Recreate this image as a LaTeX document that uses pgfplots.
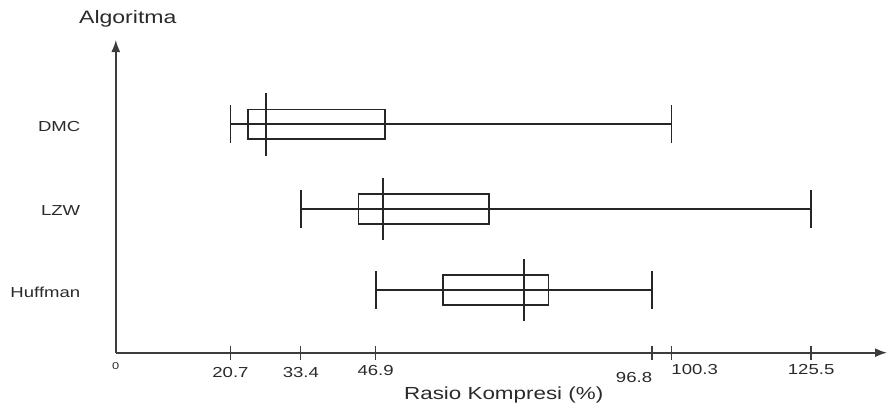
\documentclass[border=0pt]{standalone}
\usepackage{graphicx}
\usepackage{pgfplots}
\pgfplotsset{compat=1.18}
\usepgfplotslibrary{statistics}
\usetikzlibrary{arrows.meta}
\usepackage{fontspec}
\setmainfont{Liberation Sans}
\definecolor{ink}{HTML}{2A2A2A}
\definecolor{axisgray}{HTML}{3C3C3C}
\definecolor{boxcol}{HTML}{262626}
\newcommand{\sx}[1]{\scalebox{1.28}[1]{#1}}
\begin{document}
\begin{tikzpicture}
\begin{axis}[
  anchor=origin, at={(0pt,0pt)},
  scale only axis,
  width=771.2pt, height=312.7pt,
  xmin=0, xmax=139.2, ymin=0, ymax=312.7,
  axis lines=left,
  axis line style={axisgray, line width=1.6pt, -{Latex[length=12pt,width=9pt]}},
  boxplot/draw direction=x,
  xtick={20.7,33.4,46.9,96.8,100.3,125.5},
  xticklabels={{\sx{20.7}},{\sx{33.4}},{\raisebox{2pt}[\height][0pt]{\sx{46.9}}},{\raisebox{-5pt}[\height][0pt]{\makebox[0pt][r]{\sx{96.8}}}},{\raisebox{3pt}[\height][0pt]{\makebox[0pt][l]{\sx{100.3}}}},{\raisebox{3pt}[\height][0pt]{\sx{125.5}}}},
  xtick align=center,
  major tick length=14pt,
  xtick style={draw=axisgray, line width=1.3pt},
  xticklabel style={font=\fontsize{14.5}{17}\selectfont, text=ink, yshift=-4pt},
  extra x ticks={0},
  extra x tick labels={\sx{0}},
  extra x tick style={major tick length=0pt, xticklabel style={font=\fontsize{10}{12}\selectfont, yshift=-2pt}},
  ytick={62.7,143.7,228.4},
  yticklabels={\sx{Huffman},\sx{LZW},\sx{DMC}},
  ytick style={draw=none},
  yticklabel style={font=\fontsize{14.5}{17}\selectfont, text=ink, anchor=east, xshift=-25pt, yshift=-2pt},
  xlabel={\sx{Rasio Kompresi (\%)}},
  ylabel={\sx{Algoritma}},
  every axis x label/.style={at={(axis description cs:0.503,0)}, anchor=north, yshift=-31pt, font=\fontsize{17.5}{20}\selectfont, text=ink},
  every axis y label/.style={at={(axis description cs:0,1)}, anchor=south, xshift=12pt, yshift=9pt, font=\fontsize{18}{20}\selectfont, text=ink},
  clip=false,
  boxplot/draw/lower whisker/.code={%
    \draw[/pgfplots/boxplot/every whisker/.try]
      (boxplot cs:\pgfplotsboxplotvalue{lower whisker}) --
      (boxplot cs:\pgfplotsboxplotvalue{upper whisker})
      (boxplot whisker cs:\pgfplotsboxplotvalue{lower whisker},0) --
      (boxplot whisker cs:\pgfplotsboxplotvalue{lower whisker},1);
  },
  boxplot/draw/upper whisker/.code={%
    \draw[/pgfplots/boxplot/every whisker/.try]
      (boxplot whisker cs:\pgfplotsboxplotvalue{upper whisker},0) --
      (boxplot whisker cs:\pgfplotsboxplotvalue{upper whisker},1);
  },
  boxplot/draw/median/.code={%
    \draw[/pgfplots/boxplot/every median/.try]
      (boxplot box cs:\pgfplotsboxplotvalue{median},-0.56) --
      (boxplot box cs:\pgfplotsboxplotvalue{median},1.56);
  },
]
% DMC
\addplot[draw=boxcol, line width=1.8pt, solid, boxplot prepared={draw position=228.4,
  lower whisker=20.7, lower quartile=23.9, median=27.1,
  upper quartile=48.6, upper whisker=100.3, box extend=29.5, whisker extend=38}] coordinates {};
% LZW
\addplot[draw=boxcol, line width=1.8pt, solid, boxplot prepared={draw position=143.7,
  lower whisker=33.4, lower quartile=43.8, median=48.3,
  upper quartile=67.4, upper whisker=125.5, box extend=29.5, whisker extend=38}] coordinates {};
% Huffman
\addplot[draw=boxcol, line width=1.8pt, solid, boxplot prepared={draw position=62.7,
  lower whisker=46.9, lower quartile=59.0, median=73.7,
  upper quartile=78.1, upper whisker=96.8, box extend=29.5, whisker extend=38}] coordinates {};
\end{axis}
\pgfresetboundingbox
\useasboundingbox (-115.8pt,-55.3pt) rectangle (773.2pt,352.7pt);
\end{tikzpicture}
\end{document}
